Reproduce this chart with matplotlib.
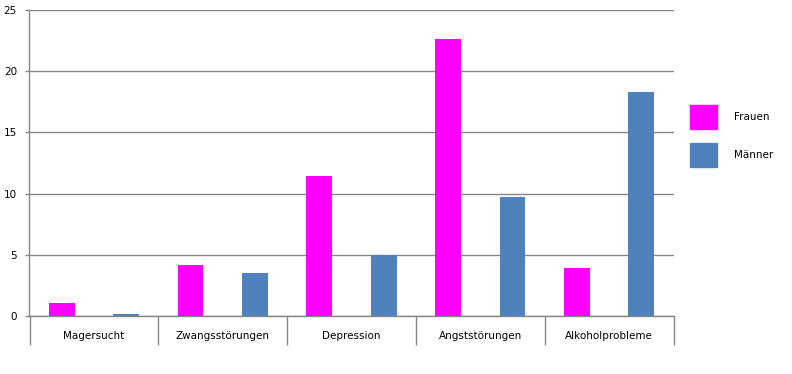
import numpy as np
import matplotlib
matplotlib.use("Agg")
import matplotlib.pyplot as plt
from matplotlib.patches import Patch

categories = ["Magersucht", "Zwangsstörungen", "Depression", "Angststörungen", "Alkoholprobleme"]
frauen = [1.1, 4.2, 11.4, 22.6, 3.9]
maenner = [0.2, 3.5, 5.0, 9.7, 18.3]
yticks = [0, 5, 10, 15, 20, 25]

pink = "#FF00FF"
blue = "#4F81BD"
grey = "#868686"

fig = plt.figure(figsize=(7.92, 3.74), dpi=100)
ax = fig.add_axes([29.5 / 792, 1 - 316 / 374, 644 / 792, 306 / 374])

x = np.arange(len(categories))
ax.bar(x - 0.25, frauen, width=0.2, color=pink, zorder=3)
ax.bar(x + 0.25, maenner, width=0.2, color=blue, zorder=3)

ax.set_xlim(-0.5, len(categories) - 0.5)
ax.set_ylim(0, 25)
ax.set_yticks(yticks)
ax.yaxis.grid(True, color=grey, linewidth=1)
ax.set_axisbelow(True)

# category labels between separator ticks
ax.set_xticks(x)
ax.set_xticklabels(categories, fontsize=7.5)
ax.set_xticks(np.arange(len(categories) + 1) - 0.5, minor=True)
ax.tick_params(axis="x", which="major", length=0, pad=11)
ax.tick_params(axis="x", which="minor", length=21, width=1, color=grey)
ax.tick_params(axis="y", length=3, width=1, color=grey, pad=6, labelsize=7.5)

for s in ["top", "right"]:
    ax.spines[s].set_visible(False)
for s in ["left", "bottom"]:
    ax.spines[s].set_color(grey)
    ax.spines[s].set_linewidth(1)

handles = [Patch(color=pink, label="Frauen"), Patch(color=blue, label="Männer")]
fig.legend(handles=handles, loc="upper left", bbox_to_anchor=(686 / 792, 1 - 101 / 374),
           frameon=False, fontsize=7.5, handlelength=2.6, handleheight=3.2,
           labelspacing=1.27, handletextpad=1.6, borderaxespad=0)

fig.savefig("out.png", dpi=100)
